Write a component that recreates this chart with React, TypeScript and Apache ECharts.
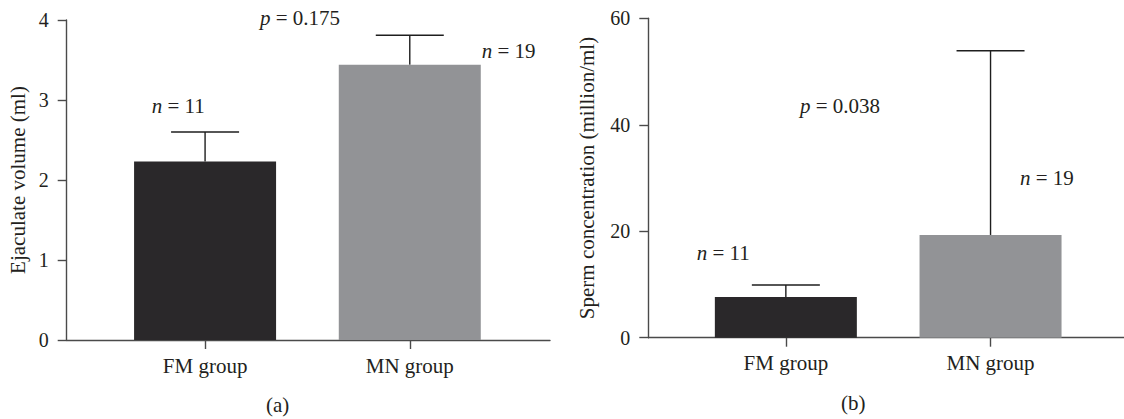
import React, { useEffect, useRef } from "react";
import * as echarts from "echarts";

// ---- data ----
const categories = ["FM group", "MN group"];
const barColors = ["#2a282a", "#929396"];

const volumeMean = [2.23, 3.44];
const volumeUpper = [2.6, 3.81];
const volumeTicks = { min: 0, max: 4, interval: 1 };

const concMean = [7.64, 19.3];
const concUpper = [9.9, 53.9];
const concTicks = { min: 0, max: 60, interval: 20 };

const titleA = "Ejaculate volume (ml)";
const titleB = "Sperm concentration (million/ml)";
const pA = "0.175";
const pB = "0.038";
const nFM = "11";
const nMN = "19";

const FONT = "'Liberation Serif', 'Times New Roman', serif";
const TXT = "#231f20";
const AX = "#4a4a4a";

export default function App() {
  const ref = useRef<HTMLDivElement>(null);
  useEffect(() => {
    if (!ref.current) return;
    const chart = echarts.init(ref.current, null, { renderer: "svg" });

    const xAxisFor = (gridIndex: number, min: number, max: number) => ({
      type: "value",
      gridIndex,
      min,
      max,
      axisLine: { show: true, onZero: false, lineStyle: { color: AX, width: 1.4 } },
      axisTick: { show: true, customValues: [0, 1], length: 9, lineStyle: { color: AX, width: 1.4 } },
      axisLabel: {
        show: true,
        customValues: [0, 1],
        formatter: (v: number) => categories[Math.round(v)] ?? "",
        margin: 15,
        fontFamily: FONT,
        fontSize: 21,
        color: TXT,
      },
      splitLine: { show: false },
    });

    const yAxisFor = (gridIndex: number, t: any, name: string, gap: number) => ({
      type: "value",
      gridIndex,
      min: t.min,
      max: t.max,
      interval: t.interval,
      name,
      nameLocation: "middle",
      nameRotate: 90,
      nameGap: gap,
      nameTextStyle: { fontFamily: FONT, fontSize: 21, color: TXT },
      axisLine: { show: true, onZero: false, lineStyle: { color: AX, width: 1.4 } },
      axisTick: { show: true, length: 9, lineStyle: { color: AX, width: 1.4 } },
      axisLabel: { margin: 18, fontFamily: FONT, fontSize: 20, color: TXT },
      splitLine: { show: false },
    });

    const barData = (means: number[]) =>
      means.map((m, i) => ({ value: [i, m], itemStyle: { color: barColors[i] } }));

    const errData = (means: number[], uppers: number[]) =>
      means.map((m, i) => [i, m, uppers[i]]);

    const renderErr = (params: any, api: any) => {
      const x = api.value(0);
      const p0 = api.coord([x, api.value(1)]);
      const p1 = api.coord([x, api.value(2)]);
      const style = { stroke: "#1e1e1e", lineWidth: 1.4 };
      return {
        type: "group",
        children: [
          { type: "line", shape: { x1: p0[0], y1: p0[1], x2: p1[0], y2: p1[1] }, style },
          { type: "line", shape: { x1: p1[0] - 34, y1: p1[1], x2: p1[0] + 34, y2: p1[1] }, style },
        ],
      };
    };

    const txt = (text: string, x: number, y: number, italic: boolean, align = "left") => ({
      type: "text",
      x,
      y,
      style: {
        text,
        fontFamily: FONT,
        fontSize: 21,
        fontStyle: italic ? "italic" : "normal",
        fill: TXT,
        align,
        verticalAlign: "middle",
      },
    });
    const ann = (value: string, letter: string, left: number, y: number) => [
      txt(letter, left, y, true),
      txt(` = ${value}`, left + 10.5, y, false),
    ];

    chart.setOption({
      animation: false,
      grid: [
        { left: 66.7, top: 20, width: 483.3, height: 320 },
        { left: 648.3, top: 18.3, width: 475.7, height: 319.4 },
      ],
      xAxis: [xAxisFor(0, -0.676, 1.685), xAxisFor(1, -0.672, 1.652)],
      yAxis: [
        yAxisFor(0, volumeTicks, titleA, 38),
        yAxisFor(1, concTicks, titleB, 51),
      ],
      series: [
        { type: "bar", xAxisIndex: 0, yAxisIndex: 0, barWidth: 142, data: barData(volumeMean) },
        { type: "bar", xAxisIndex: 1, yAxisIndex: 1, barWidth: 142, data: barData(concMean) },
        { type: "custom", xAxisIndex: 0, yAxisIndex: 0, renderItem: renderErr, data: errData(volumeMean, volumeUpper) },
        { type: "custom", xAxisIndex: 1, yAxisIndex: 1, renderItem: renderErr, data: errData(concMean, concUpper) },
      ],
      graphic: [
        ...ann(pA, "p", 260, 18.3),
        ...ann(nFM, "n", 151.7, 105.5),
        ...ann(nMN, "n", 481.7, 51),
        ...ann(pB, "p", 800, 106.3),
        ...ann(nFM, "n", 696.7, 252.5),
        ...ann(nMN, "n", 1020, 177.5),
        txt("(a)", 277.7, 404.7, false, "center"),
        txt("(b)", 853.3, 403.3, false, "center"),
      ],
    });

    return () => chart.dispose();
  }, []);

  return (
    <div
      ref={ref}
      style={{ position: "absolute", left: 0, top: 0, width: 1124, height: 419, background: "#fff" }}
    />
  );
}
